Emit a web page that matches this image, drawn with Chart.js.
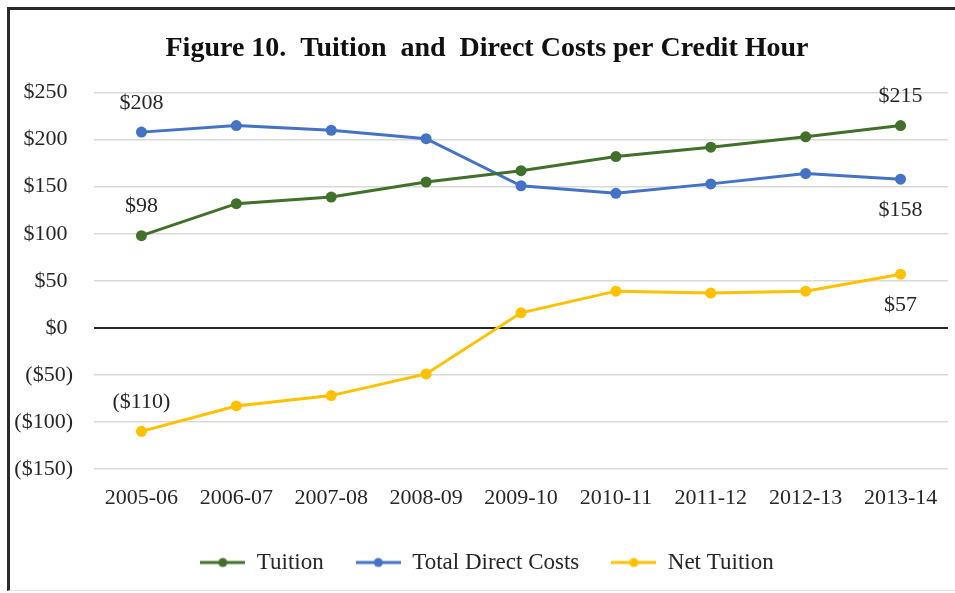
<!DOCTYPE html>
<html>
<head>
<meta charset="utf-8">
<title>Tuition and Direct Costs per Credit Hour</title>
<script src="https://cdn.jsdelivr.net/npm/chart.js@4.4.1/dist/chart.umd.min.js"></script>
<style>
  html, body { margin: 0; padding: 0; background: #fff; }
  #wrap { position: relative; width: 955px; height: 593px; overflow: hidden; }
  #frame {
    position: absolute; left: 7px; top: 7px; width: 960px; height: 584px;
    border-top: 3px solid #2b2b2b; border-left: 3px solid #2b2b2b;
    border-bottom: 1px solid #e2e2e2; box-sizing: border-box;
  }
  canvas { position: absolute; left: 0; top: 0; }
</style>
</head>
<body>
<div id="wrap">
  <div id="frame"></div>
  <canvas id="costChart" width="955" height="593"></canvas>
</div>
<script>
  const years = ["2005-06", "2006-07", "2007-08", "2008-09", "2009-10", "2010-11", "2011-12", "2012-13", "2013-14"];
  const tuition = [98, 132, 139, 155, 167, 182, 192, 203, 215];
  const directCosts = [208, 215, 210, 201, 151, 143, 153, 164, 158];
  const netTuition = [-110, -83, -72, -49, 16, 39, 37, 39, 57];

  const seriesNames = ["Tuition", "Total Direct Costs", "Net Tuition"];
  const seriesColors = ["#41702a", "#4472c4", "#ffc000"];

  // which points get a value written next to them
  const valueLabels = [
    { series: 0, index: 0, side: "above" },
    { series: 0, index: 8, side: "above" },
    { series: 1, index: 0, side: "above" },
    { series: 1, index: 8, side: "below" },
    { series: 2, index: 0, side: "above" },
    { series: 2, index: 8, side: "below" }
  ];

  const serif = "'Liberation Serif', 'Times New Roman', serif";
  const textColor = "#262626";

  const money = v => v < 0 ? `($${-v})` : `$${v} `;

  // small line-with-dot swatches for the legend
  const swatch = color => {
    const c = document.createElement("canvas");
    c.width = 45; c.height = 12;
    const g = c.getContext("2d");
    g.strokeStyle = color; g.lineWidth = 3;
    g.beginPath(); g.moveTo(0, 6); g.lineTo(45, 6); g.stroke();
    g.fillStyle = color;
    g.beginPath(); g.arc(22.5, 6, 4.5, 0, Math.PI * 2); g.fill();
    return c;
  };

  const pointValues = {
    id: "pointValues",
    afterDatasetsDraw(chart) {
      const ctx = chart.ctx;
      ctx.save();
      ctx.font = `22px ${serif}`;
      ctx.fillStyle = textColor;
      ctx.textAlign = "center";
      ctx.textBaseline = "middle";
      valueLabels.forEach(l => {
        const pt = chart.getDatasetMeta(l.series).data[l.index];
        const v = chart.data.datasets[l.series].data[l.index];
        const dy = l.side === "above" ? -29 : 31;
        ctx.fillText(money(v).trim(), pt.x, pt.y + dy);
      });
      ctx.restore();
    }
  };

  // let the y labels run into the left padding instead of being clipped
  const widenYLabels = {
    id: "widenYLabels",
    afterLayout(chart) { chart.scales.y.left = 8; }
  };

  const makeSet = (i, data) => ({
    label: seriesNames[i],
    data: data,
    borderColor: seriesColors[i],
    backgroundColor: seriesColors[i],
    borderWidth: 3,
    pointRadius: 5.5,
    pointHoverRadius: 5.5,
    pointBackgroundColor: seriesColors[i],
    pointBorderWidth: 0,
    tension: 0
  });

  new Chart(document.getElementById("costChart"), {
    type: "line",
    data: {
      labels: years,
      datasets: [makeSet(0, tuition), makeSet(1, directCosts), makeSet(2, netTuition)]
    },
    options: {
      responsive: false,
      animation: false,
      layout: { padding: { left: 26, right: 7, top: 0, bottom: 9 } },
      plugins: {
        title: {
          display: true,
          text: "Figure 10.  Tuition  and  Direct Costs per Credit Hour",
          color: "#111",
          font: { family: serif, size: 28, weight: "bold", lineHeight: 1.2 },
          padding: { top: 32, bottom: 27 }
        },
        legend: {
          position: "bottom",
          labels: {
            color: textColor,
            font: { family: serif, size: 23 },
            usePointStyle: true,
            pointStyleWidth: 45,
            padding: 32,
            generateLabels(chart) {
              const items = Chart.defaults.plugins.legend.labels.generateLabels(chart);
              items.forEach((it, i) => { it.pointStyle = swatch(seriesColors[i]); });
              return items;
            }
          }
        },
        tooltip: { enabled: false }
      },
      scales: {
        x: {
          offset: true,
          grid: { display: false, drawTicks: false },
          border: { display: false },
          ticks: { color: textColor, font: { family: serif, size: 22 }, padding: 16, maxRotation: 0 },
          afterFit(scale) { scale.height = 50; }
        },
        y: {
          min: -150,
          max: 250,
          border: { display: false },
          grid: {
            drawTicks: false,
            color: ctx => ctx.tick && ctx.tick.value === 0 ? "#262626" : "#d9d9d9",
            lineWidth: ctx => ctx.tick && ctx.tick.value === 0 ? 2 : 1.5
          },
          ticks: {
            stepSize: 50,
            color: textColor,
            font: { family: serif, size: 22 },
            padding: 21,
            callback: v => money(v)
          },
          afterFit(scale) { scale.width = 68; }
        }
      }
    },
    plugins: [pointValues, widenYLabels]
  });
</script>
</body>
</html>
